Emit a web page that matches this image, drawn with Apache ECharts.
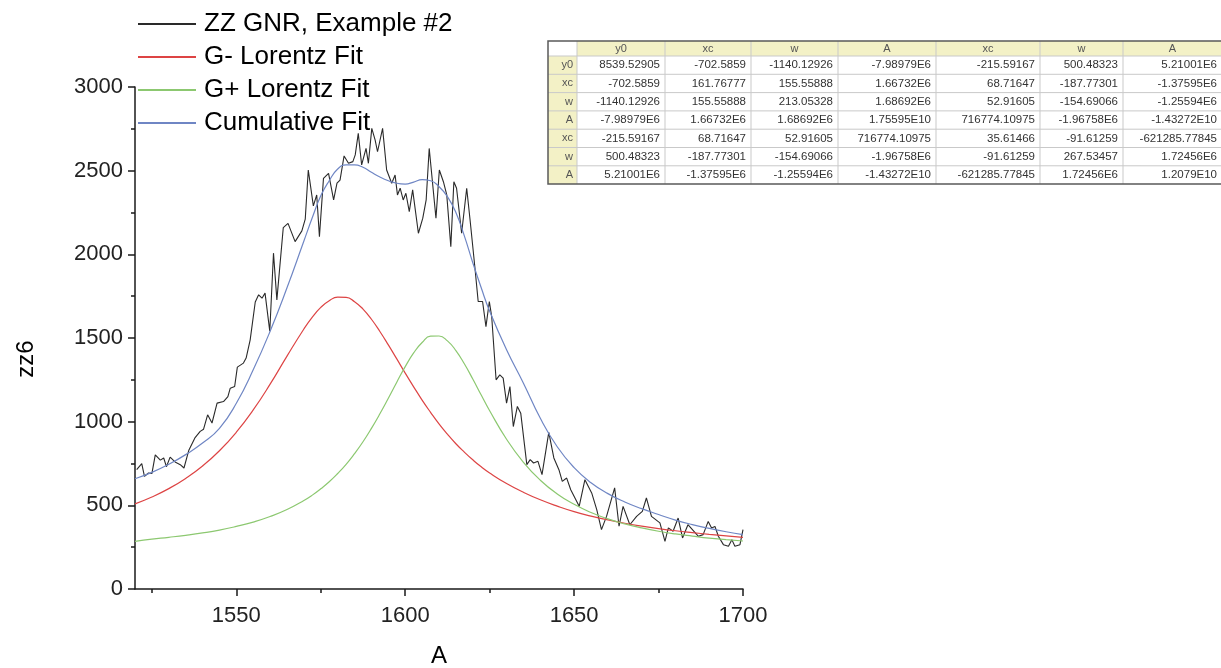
<!DOCTYPE html>
<html>
<head>
<meta charset="utf-8">
<script src="https://cdn.jsdelivr.net/npm/echarts@6/dist/echarts.min.js"></script>
<style>
  html, body { margin: 0; padding: 0; background: #ffffff; }
  #chart { width: 1221px; height: 668px; }
</style>
</head>
<body>
<div id="chart"></div>
<script>
// ---- data ----
const seriesNames = ['ZZ GNR, Example #2', 'G- Lorentz Fit', 'G+ Lorentz Fit', 'Cumulative Fit'];

// measured spectrum (wavenumber, intensity)
const rawX = [1520.5, 1522, 1522.8, 1524, 1525, 1526, 1527.5, 1528.5, 1529.3, 1530.4, 1532, 1533.4, 1534.5, 1535.9,
  1537.8, 1539.3, 1540.3, 1541.5, 1542.8, 1544.3, 1546.2, 1547.5, 1548.2, 1549.5, 1550.3, 1552.1, 1552.9, 1554.1,
  1555.6, 1556.6, 1557.6, 1558.5, 1559.9, 1561, 1562, 1563.9, 1565.3, 1567.4, 1569.4, 1570.4, 1571.3, 1572.8, 1573.8,
  1574.6, 1575.8, 1577.3, 1578.8, 1579.8, 1580.7, 1581.9, 1583.2, 1584.5, 1585.2, 1586.1, 1587.1, 1588.4, 1589.1,
  1590.1, 1591.1, 1591.8, 1593.3, 1594.5, 1596, 1597, 1597.7, 1598.5, 1599.4, 1600.2, 1601.2, 1602.2, 1603.9, 1605.2,
  1606.2, 1607.1, 1608.1, 1609.1, 1610.1, 1611.3, 1612.3, 1613.5, 1614.4, 1615.2, 1616.7, 1618.2, 1619.2, 1620.6,
  1621.6, 1622.9, 1623.9, 1624.9, 1625.6, 1626.9, 1628, 1629, 1630, 1631, 1632, 1633.2, 1634.2, 1636, 1637, 1638,
  1639.3, 1640.5, 1642.5, 1644, 1645.5, 1646.5, 1647.8, 1649, 1651.5, 1653.2, 1655.2, 1656.7, 1658.1, 1659.6, 1662,
  1663.3, 1664.5, 1666.5, 1668.5, 1670.2, 1671.4, 1672.9, 1675.4, 1676.9, 1677.9, 1679.3, 1680.8, 1682.1, 1683.7,
  1686.8, 1688.2, 1689.7, 1690.7, 1691.7, 1692.7, 1694.2, 1695.7, 1696.7, 1697.6, 1699.1, 1700];
const rawY = [713, 749, 673, 693, 690, 802, 770, 783, 731, 788, 757, 743, 723, 827,
  905, 942, 955, 1041, 992, 1111, 1120, 1150, 1200, 1210, 1326, 1350, 1380, 1489,
  1715, 1758, 1738, 1768, 1540, 2007, 1728, 2160, 2185, 2076, 2140, 2210, 2504, 2290, 2355,
  2106, 2454, 2484, 2325, 2425, 2444, 2588, 2544, 2554, 2594, 2723, 2534, 2633, 2544,
  2753, 2683, 2613, 2753, 2504, 2425, 2474, 2355, 2395, 2325, 2365, 2255, 2385, 2126, 2216,
  2325, 2633, 2425, 2216, 2504, 2434, 2355, 2046, 2434, 2395, 2126, 2395, 2205, 1927,
  1718, 1718, 1568, 1718, 1628, 1250, 1280, 1260, 1111, 1210, 971, 1091, 1051, 743, 773, 753,
  763, 683, 936, 783, 713, 643, 663, 593, 494, 653, 574, 474, 355, 434, 604,
  375, 494, 384, 434, 464, 544, 434, 395, 285, 365, 345, 424, 305, 384,
  315, 325, 404, 365, 374, 315, 265, 255, 295, 255, 265, 355];

// fitted curves, sampled every 5 cm-1 (every 2.5 cm-1 across the peaks)
const fitX = [1520, 1525, 1530, 1535, 1540, 1545, 1550, 1555, 1560, 1565, 1570, 1572.5, 1575, 1577.5, 1580,
  1582.5, 1585, 1587.5, 1590, 1592.5, 1595, 1597.5, 1600, 1602.5, 1605, 1607.5, 1610, 1612.5, 1615, 1617.5,
  1620, 1622.5, 1625, 1630, 1635, 1640, 1645, 1650, 1655, 1660, 1665, 1670, 1675, 1680, 1685, 1690, 1695, 1700];
const gMinusFit = [509, 550, 600, 661, 735, 826, 937, 1070, 1224, 1392, 1554, 1625, 1683, 1723, 1744,
  1743, 1717, 1673, 1612, 1539, 1459, 1375, 1290, 1208, 1129, 1056, 987, 925, 868, 818,
  772, 730, 693, 630, 578, 533, 495, 462, 436, 413, 393, 376, 361, 348, 337, 327, 318, 308];
const gPlusFit = [285, 298, 309, 321, 335, 352, 374, 400, 433, 475, 529, 561, 599, 641, 690,
  745, 809, 880, 960, 1047, 1140, 1236, 1329, 1411, 1473, 1511, 1512, 1483, 1425, 1346,
  1255, 1159, 1065, 895, 757, 650, 568, 506, 457, 419, 389, 365, 345, 329, 316, 304, 295, 287];
const cumulativeFit = [659, 697, 745, 803, 872, 960, 1110, 1310, 1540, 1800, 2080, 2220, 2350, 2440, 2510,
  2535, 2535, 2520, 2490, 2462, 2440, 2425, 2420, 2432, 2446, 2440, 2405, 2345, 2250, 2110,
  1950, 1800, 1660, 1430, 1230, 1020, 850, 725, 635, 570, 520, 480, 445, 412, 385, 362, 342, 325];

// axis ticks
const xMajorTicks = [1550, 1600, 1650, 1700];
const xMinorTicks = [1525, 1575, 1625, 1675];

// covariance matrix of the fit parameters
const matrixLabels = ['y0', 'xc', 'w', 'A', 'xc', 'w', 'A'];
const matrixRows = [
  ['8539.52905', '-702.5859', '-1140.12926', '-7.98979E6', '-215.59167', '500.48323', '5.21001E6'],
  ['-702.5859', '161.76777', '155.55888', '1.66732E6', '68.71647', '-187.77301', '-1.37595E6'],
  ['-1140.12926', '155.55888', '213.05328', '1.68692E6', '52.91605', '-154.69066', '-1.25594E6'],
  ['-7.98979E6', '1.66732E6', '1.68692E6', '1.75595E10', '716774.10975', '-1.96758E6', '-1.43272E10'],
  ['-215.59167', '68.71647', '52.91605', '716774.10975', '35.61466', '-91.61259', '-621285.77845'],
  ['500.48323', '-187.77301', '-154.69066', '-1.96758E6', '-91.61259', '267.53457', '1.72456E6'],
  ['5.21001E6', '-1.37595E6', '-1.25594E6', '-1.43272E10', '-621285.77845', '1.72456E6', '1.2079E10']
];

// ---- matrix table drawn as graphic elements ----
const FONT = 'Liberation Sans, Arial, sans-serif';
const colEdges = [548, 577, 665, 751, 838, 936, 1040, 1123, 1222];
const tableTop = 41;
const headH = 15;
const rowH = 18.3;
const headFill = '#f3f1c6';
const gridLine = '#c9c9c9';

function buildTable() {
  const els = [];
  const nRows = matrixRows.length;
  const bottom = tableTop + headH + rowH * nRows;
  const right = colEdges[colEdges.length - 1];
  // header band and row-label column
  els.push({ type: 'rect', shape: { x: colEdges[1], y: tableTop, width: right - colEdges[1], height: headH },
    style: { fill: headFill }, silent: true });
  els.push({ type: 'rect', shape: { x: colEdges[0], y: tableTop + headH, width: colEdges[1] - colEdges[0], height: rowH * nRows },
    style: { fill: headFill }, silent: true });
  // inner grid lines
  for (let c = 1; c < colEdges.length - 1; c++) {
    els.push({ type: 'line', shape: { x1: colEdges[c], y1: tableTop, x2: colEdges[c], y2: bottom },
      style: { stroke: gridLine, lineWidth: 1 }, silent: true });
  }
  for (let r = 0; r < nRows; r++) {
    const y = tableTop + headH + rowH * r;
    els.push({ type: 'line', shape: { x1: colEdges[0], y1: y, x2: right, y2: y },
      style: { stroke: gridLine, lineWidth: 1 }, silent: true });
  }
  // outer frame
  els.push({ type: 'polyline', shape: { points: [[right, tableTop], [colEdges[0], tableTop],
      [colEdges[0], bottom], [right, bottom]] },
    style: { stroke: '#5a5a5a', lineWidth: 1.5, fill: null }, silent: true });
  // header labels
  matrixLabels.forEach((lab, c) => {
    els.push({ type: 'text', x: (colEdges[c + 1] + colEdges[c + 2]) / 2, y: tableTop + headH / 2,
      style: { text: lab, fill: '#555', font: '11px ' + FONT, align: 'center', verticalAlign: 'middle' }, silent: true });
  });
  // row labels and cells
  matrixRows.forEach((row, r) => {
    const cy = tableTop + headH + rowH * r + rowH / 2;
    els.push({ type: 'text', x: colEdges[1] - 4, y: cy,
      style: { text: matrixLabels[r], fill: '#555', font: '11px ' + FONT, align: 'right', verticalAlign: 'middle' }, silent: true });
    row.forEach((val, c) => {
      els.push({ type: 'text', x: colEdges[c + 2] - 5, y: cy,
        style: { text: val, fill: '#333', font: '11.5px ' + FONT, align: 'right', verticalAlign: 'middle' }, silent: true });
    });
  });
  return els;
}

// ---- chart ----
const chart = echarts.init(document.getElementById('chart'), null, { renderer: 'canvas' });

const axisColor = '#1a1a1a';
const rawSeries = rawX.map((x, i) => [x, rawY[i]]);
const pair = arr => fitX.map((x, i) => [x, arr[i]]);
const plain = v => String(v);

chart.setOption({
  animation: false,
  backgroundColor: '#ffffff',
  textStyle: { fontFamily: FONT },
  grid: { left: 135, right: 478, top: 87, bottom: 79, containLabel: false, outerBoundsMode: 'none' },
  legend: {
    orient: 'vertical',
    left: 137,
    top: 9,
    padding: 0,
    itemGap: 3,
    itemWidth: 58,
    itemHeight: 14,
    selectedMode: false,
    itemStyle: { opacity: 0 },
    textStyle: { fontSize: 26, color: '#000', lineHeight: 30, padding: [0, 0, 0, 3], fontFamily: FONT },
    data: seriesNames
  },
  xAxis: [
    {
      type: 'value',
      min: 1520,
      max: 1700,
      name: 'A',
      nameLocation: 'middle',
      nameGap: 55,
      nameTextStyle: { fontSize: 24, color: '#000', fontFamily: FONT },
      axisLine: { show: true, onZero: false, lineStyle: { color: axisColor, width: 1.5 } },
      axisTick: { show: true, inside: false, length: 7, customValues: xMajorTicks, lineStyle: { color: axisColor, width: 1.5 } },
      axisLabel: { show: true, margin: 16, fontSize: 22, color: '#222', customValues: xMajorTicks, fontFamily: FONT, formatter: plain },
      splitLine: { show: false }
    },
    {
      type: 'value',
      min: 1520,
      max: 1700,
      position: 'bottom',
      axisLine: { show: false },
      axisTick: { show: true, inside: false, length: 4, customValues: xMinorTicks, lineStyle: { color: axisColor, width: 1.5 } },
      axisLabel: { show: false },
      splitLine: { show: false }
    }
  ],
  yAxis: {
    type: 'value',
    min: 0,
    max: 3000,
    interval: 500,
    name: 'zz6',
    nameLocation: 'middle',
    nameGap: 97,
    nameRotate: 90,
    nameTextStyle: { fontSize: 24, color: '#000', fontFamily: FONT, padding: [0, 42, 0, 0] },
    axisLine: { show: true, onZero: false, lineStyle: { color: axisColor, width: 1.5 } },
    axisTick: { show: true, inside: false, length: 7, lineStyle: { color: axisColor, width: 1.5 } },
    minorTick: { show: true, splitNumber: 2, length: 4, lineStyle: { color: axisColor, width: 1.5 } },
    axisLabel: { margin: 12, fontSize: 22, color: '#222', fontFamily: FONT, formatter: plain },
    splitLine: { show: false }
  },
  series: [
    {
      name: seriesNames[0], type: 'line', data: rawSeries, symbol: 'none',
      lineStyle: { color: '#2a2a2a', width: 1.1 }, itemStyle: { color: '#2a2a2a' }, z: 2
    },
    {
      name: seriesNames[1], type: 'line', data: pair(gMinusFit), symbol: 'none', smooth: true,
      lineStyle: { color: '#dd4444', width: 1.2 }, itemStyle: { color: '#dd4444' }, z: 3
    },
    {
      name: seriesNames[2], type: 'line', data: pair(gPlusFit), symbol: 'none', smooth: true,
      lineStyle: { color: '#8cc870', width: 1.2 }, itemStyle: { color: '#8cc870' }, z: 3
    },
    {
      name: seriesNames[3], type: 'line', data: pair(cumulativeFit), symbol: 'none', smooth: true,
      lineStyle: { color: '#6f86c4', width: 1.2 }, itemStyle: { color: '#6f86c4' }, z: 4
    }
  ],
  graphic: buildTable()
});
</script>
</body>
</html>
